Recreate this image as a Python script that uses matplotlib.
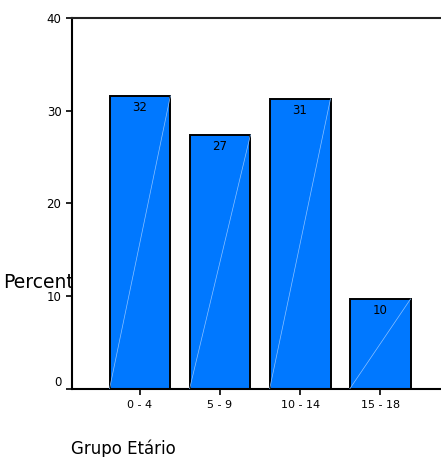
import matplotlib
matplotlib.use('Agg')
import matplotlib.pyplot as plt

plt.rcParams['font.family'] = ['DejaVu Sans']

grupos = ['0 - 4', '5 - 9', '10 - 14', '15 - 18']
percent = [31.6, 27.4, 31.3, 9.7]
rotulos = ['32', '27', '31', '10']

fig = plt.figure(figsize=(4.41, 4.57), dpi=100)
ax = fig.add_axes([0.163, 0.149, 0.837, 0.8115])
ax.set_facecolor('white')

pos = list(range(len(grupos)))
largura = 0.76
ax.bar(pos, percent, width=largura, color='#0078FF', edgecolor='black',
       linewidth=1.4, zorder=2)

# linha diagonal clara dentro de cada barra
for x, h, r in zip(pos, percent, rotulos):
    ax.plot([x - largura / 2, x + largura / 2], [0, h], color='#8FC3FF',
            linewidth=0.5, zorder=3)
    ax.text(x, h - 1.25, r, ha='center', va='center', fontsize=8.5, zorder=4)

ax.set_xlim(-0.85, 3.76)
ax.set_ylim(0, 40)
ax.set_yticks([0, 10, 20, 30, 40])
ax.set_xticks(pos)
ax.set_xticklabels(grupos)
ax.tick_params(axis='both', direction='out', length=4, width=1.2,
               labelsize=8.5, colors='black')
ax.tick_params(axis='x', pad=4, labelsize=8)
ax.tick_params(axis='y', pad=3.5)
ax.get_yticklabels()[0].set_va('bottom')

for lado in ['left', 'bottom']:
    ax.spines[lado].set_linewidth(1.5)
ax.spines['top'].set_linewidth(1.5)
ax.spines['top'].set_color('#222222')
ax.spines['right'].set_visible(False)

# rótulo do eixo y fica parcialmente encoberto pela área do gráfico
fig.text(0.007, 0.37, 'Percent', fontsize=13.5, ha='left', va='baseline', zorder=-1)
fig.text(0.16, 0.007, 'Grupo Etário', fontsize=12, ha='left', va='baseline')

fig.savefig('out.png', dpi=100)
